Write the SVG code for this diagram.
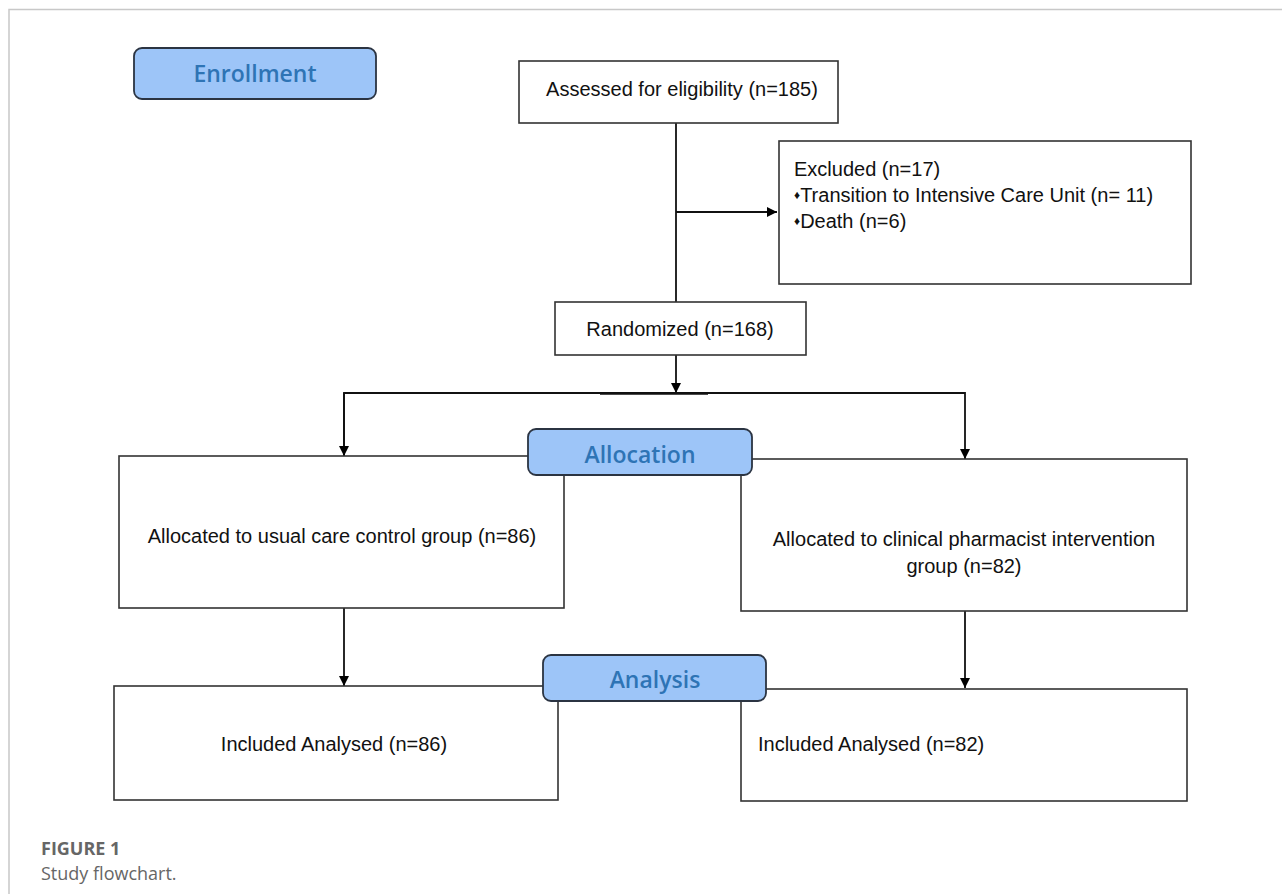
<svg xmlns="http://www.w3.org/2000/svg" width="1282" height="894" viewBox="0 0 1282 894">
<defs>
<marker id="ah" viewBox="0 0 10 10" refX="10" refY="5" markerWidth="10" markerHeight="10" markerUnits="userSpaceOnUse" orient="auto">
<path d="M0,0 L10,5 L0,10 z" fill="#000"/>
</marker>
</defs>
<style>
.box{fill:#fff;stroke:#333;stroke-width:1.6}
.lab{fill:#9dc5f8;stroke:#2b3442;stroke-width:1.8}
.lt{font-family:"Open Sans","Noto Sans",sans-serif;font-weight:600;font-size:23px;fill:#2e74b5;text-anchor:middle}
.t{font-family:"Liberation Sans",Arial,sans-serif;font-size:20px;fill:#111}
.c{text-anchor:middle}
.ln{stroke:#111;stroke-width:1.8;fill:none}
.cap{font-family:"Open Sans","Noto Sans",sans-serif;font-size:18px;fill:#666}
</style>
<rect width="1282" height="894" fill="#fff"/>
<path d="M9,894 V9.5 H1282" fill="none" stroke="#c8c8c8" stroke-width="1.5"/>

<g id="connectors">
<path class="ln" d="M676,123 V302"/>
<path class="ln" d="M676,212 H777" marker-end="url(#ah)"/>
<path class="ln" d="M676,355 V393" marker-end="url(#ah)"/>
<path class="ln" d="M344,456 V393 H965 V459" marker-end="url(#ah)"/>
<path d="M600,393.5 H708" stroke="#111" stroke-width="2.5"/>
<path class="ln" d="M344,393 V456" marker-end="url(#ah)"/>
<path class="ln" d="M344,608 V686" marker-end="url(#ah)"/>
<path class="ln" d="M965,611 V688" marker-end="url(#ah)"/>
</g>

<g id="assessed">
<rect class="box" x="519" y="61" width="319" height="62"/>
<text class="t c" x="682" y="96">Assessed for eligibility (n=185)</text>
</g>

<g id="excluded">
<rect class="box" x="779" y="141" width="412" height="143"/>
<text class="t" x="794" y="176">Excluded (n=17)</text>
<text class="t" x="794" y="202"><tspan font-size="12" dy="-3">♦</tspan><tspan dy="3">Transition to Intensive Care Unit (n= 11)</tspan></text>
<text class="t" x="794" y="228"><tspan font-size="12" dy="-3">♦</tspan><tspan dy="3">Death (n=6)</tspan></text>
</g>

<g id="randomized">
<rect class="box" x="555" y="302" width="251" height="53"/>
<text class="t c" x="680" y="336">Randomized (n=168)</text>
</g>

<g id="control">
<rect class="box" x="119" y="456" width="445" height="152"/>
<text class="t c" x="342" y="543">Allocated to usual care control group (n=86)</text>
</g>

<g id="intervention">
<rect class="box" x="741" y="459" width="446" height="152"/>
<text class="t c" x="964" y="546">Allocated to clinical pharmacist intervention</text>
<text class="t c" x="964" y="573">group (n=82)</text>
</g>

<g id="analysed-control">
<rect class="box" x="114" y="686" width="444" height="114"/>
<text class="t c" x="334" y="751">Included Analysed (n=86)</text>
</g>

<g id="analysed-intervention">
<rect class="box" x="741" y="689" width="446" height="112"/>
<text class="t" x="758" y="751">Included Analysed (n=82)</text>
</g>

<g id="enrollment">
<rect class="lab" x="134" y="48" width="242" height="51" rx="8"/>
<text class="lt" x="255" y="82">Enrollment</text>
</g>

<g id="allocation">
<rect class="lab" x="528" y="429" width="224" height="46" rx="8"/>
<text class="lt" x="640" y="463">Allocation</text>
</g>

<g id="analysis">
<rect class="lab" x="543" y="655" width="223" height="46" rx="8"/>
<text class="lt" x="655" y="688">Analysis</text>
</g>

<text class="cap" x="41" y="855" font-weight="700">FIGURE 1</text>
<text class="cap" x="41" y="880">Study flowchart.</text>
</svg>
